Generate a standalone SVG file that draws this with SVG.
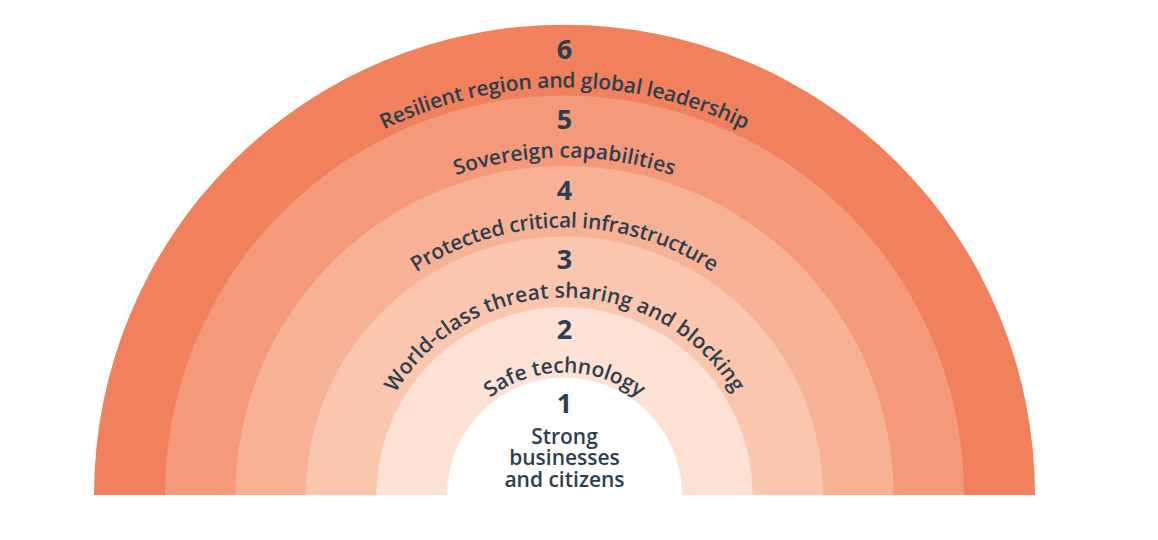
<svg xmlns="http://www.w3.org/2000/svg" width="1158" height="540" viewBox="0 0 1158 540">
<style>
.num{font-family:"Open Sans","Liberation Sans",sans-serif;font-weight:700;font-size:27px;fill:#2D3E4E;text-anchor:middle}
.lbl{font-family:"Open Sans","Liberation Sans",sans-serif;font-weight:600;font-size:21px;fill:#2D3E4E;text-anchor:middle}
.ctr{font-family:"Open Sans","Liberation Sans",sans-serif;font-weight:600;font-size:21px;fill:#2D3E4E;text-anchor:middle}
</style>
<defs>
<path id="p6" d="M 157 495 A 407.5 407.5 0 0 1 972 495"/>
<path id="p5" d="M 227 495 A 337.5 337.5 0 0 1 902 495"/>
<path id="p4" d="M 297 495 A 267.5 267.5 0 0 1 832 495"/>
<path id="p3" d="M 367 495 A 197.5 197.5 0 0 1 762 495"/>
<path id="p2" d="M 442 495 A 122.5 122.5 0 0 1 687 495"/>
</defs>
<rect width="1158" height="540" fill="#FFFFFF"/>
<g id="ring6">
<path d="M 94 495 A 470.5 470.5 0 0 1 1035 495 Z" fill="#F1805C"/>
<text class="num" x="564.5" y="59">6</text>
<text class="lbl"><textPath href="#p6" startOffset="50%" textLength="374" lengthAdjust="spacing">Resilient region and global leadership</textPath></text>
</g>
<g id="ring5">
<path d="M 165 495 A 399.5 399.5 0 0 1 964 495 Z" fill="#F4997A"/>
<text class="num" x="564.5" y="128.5">5</text>
<text class="lbl"><textPath href="#p5" startOffset="50%" textLength="221" lengthAdjust="spacing">Sovereign capabilities</textPath></text>
</g>
<g id="ring4">
<path d="M 235.5 495 A 329 329 0 0 1 893.5 495 Z" fill="#F7B296"/>
<text class="num" x="564.5" y="199.5">4</text>
<text class="lbl"><textPath href="#p4" startOffset="50%" textLength="314" lengthAdjust="spacing">Protected critical infrastructure</textPath></text>
</g>
<g id="ring3">
<path d="M 306 495 A 258.5 258.5 0 0 1 823 495 Z" fill="#FAC6AE"/>
<text class="num" x="564.5" y="269">3</text>
<text class="lbl"><textPath href="#p3" startOffset="50%" textLength="406" lengthAdjust="spacing">World-class threat sharing and blocking</textPath></text>
</g>
<g id="ring2">
<path d="M 376.5 495 A 188 188 0 0 1 752.5 495 Z" fill="#FDE1D5"/>
<text class="num" x="564.5" y="339">2</text>
<text class="lbl"><textPath href="#p2" startOffset="50%" textLength="160" lengthAdjust="spacing">Safe technology</textPath></text>
</g>
<g id="ring1">
<path d="M 447 495 A 117.5 117.5 0 0 1 682 495 Z" fill="#FFFFFF"/>
<text class="num" x="564.5" y="412.5">1</text>
<text class="ctr" x="564.5" y="443.5">Strong</text>
<text class="ctr" x="564.5" y="465">businesses</text>
<text class="ctr" x="564.5" y="487">and citizens</text>
</g>
<g id="connectors"/>
</svg>
